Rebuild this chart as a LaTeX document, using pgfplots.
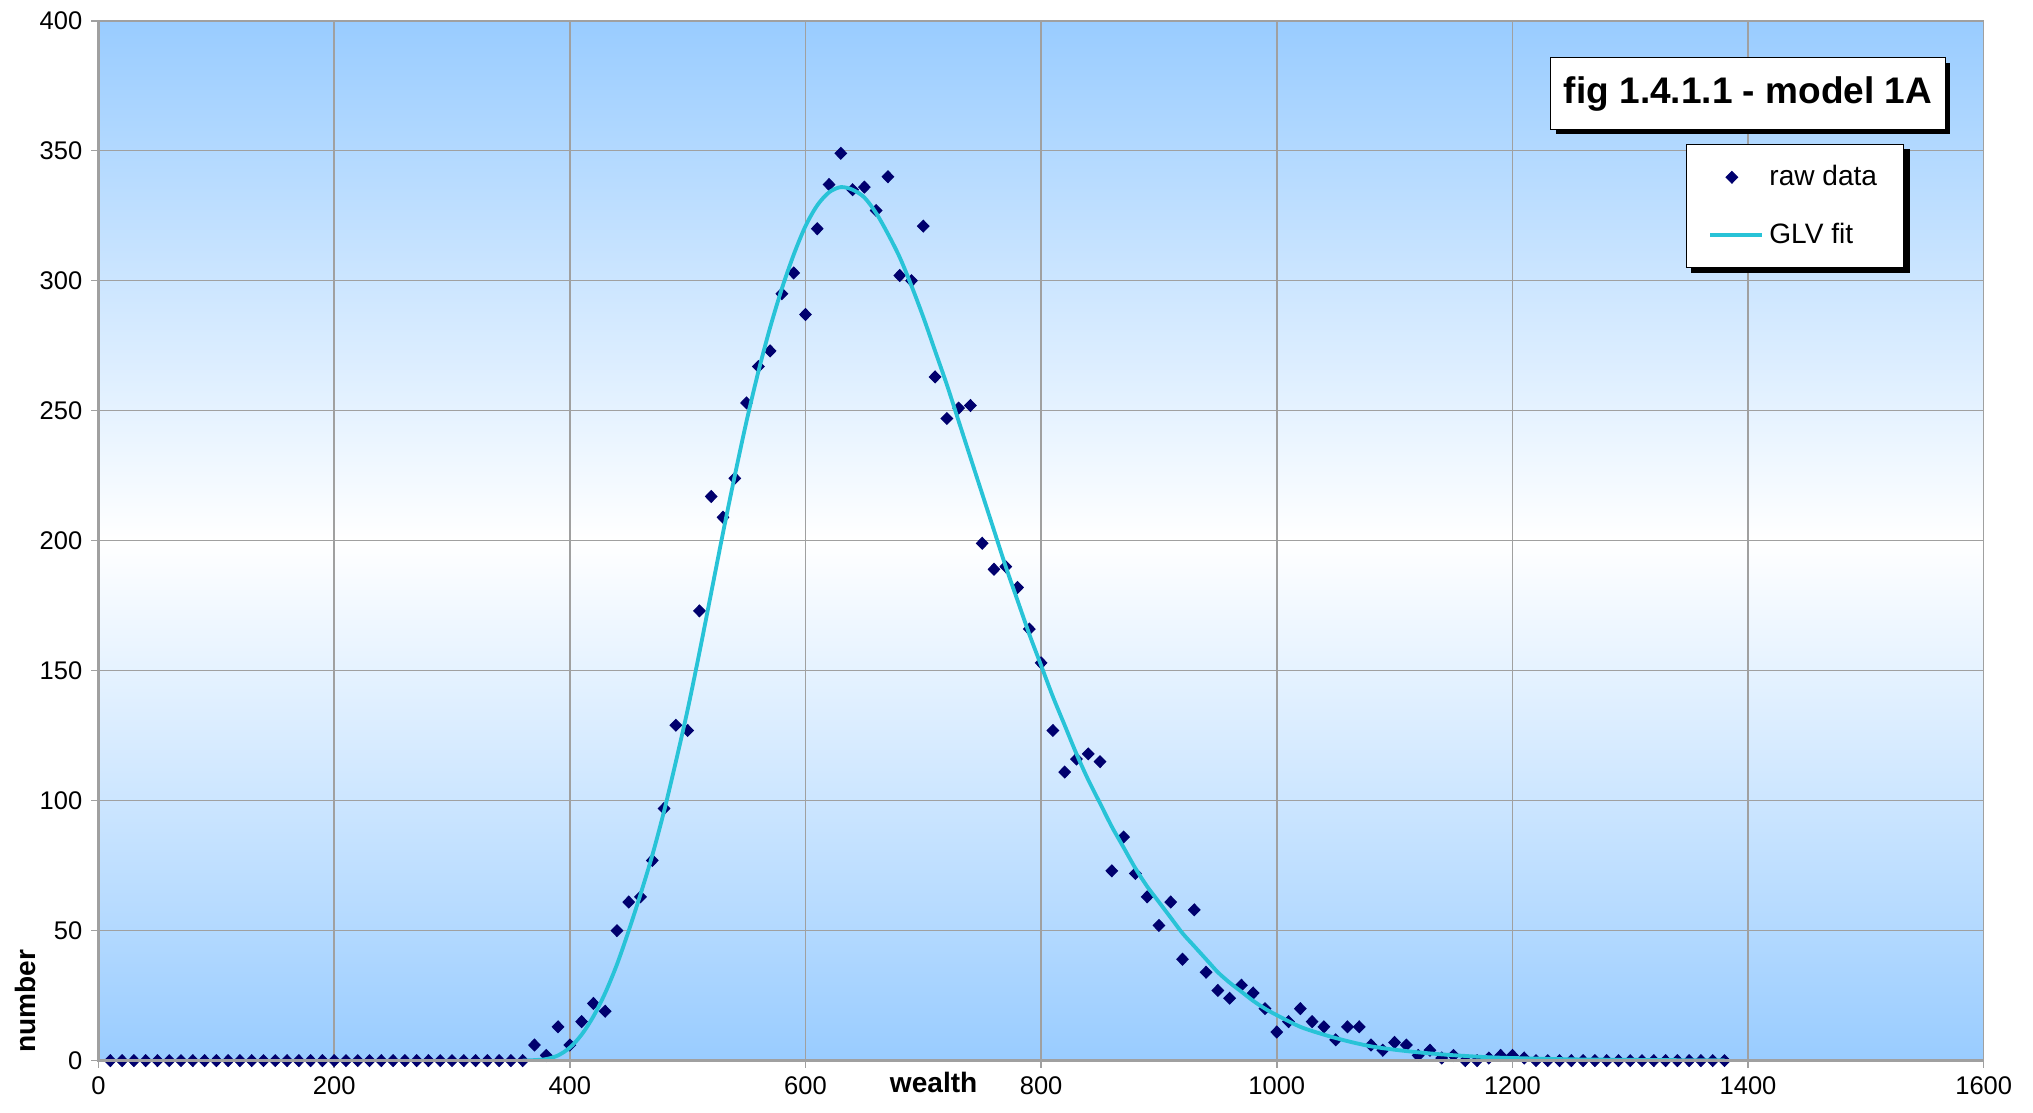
\documentclass[border=0pt]{standalone}
\usepackage{pgfplots}
\pgfplotsset{compat=1.18}
\usepackage{fontspec}
\setmainfont{Liberation Sans}
\usetikzlibrary{shadows}

\definecolor{bgblue}{RGB}{153,204,255}
\definecolor{fitcyan}{RGB}{40,195,215}
\definecolor{navy}{RGB}{0,0,110}
\definecolor{gridgray}{RGB}{160,160,160}

\begin{document}
\begin{tikzpicture}
\begin{axis}[
    scale only axis,
    width=25.96cm, height=14.32cm,
    xmin=0, xmax=1600, ymin=0, ymax=400,
    xtick={0,200,...,1600}, ytick={0,50,...,400},
    grid=major,
    major grid style={gridgray, line width=0.6pt},
    axis line style={gridgray, line width=0.6pt},
    tick align=outside, tick pos=left,
    major tick length=0.1cm,
    tick style={gridgray, line width=0.6pt},
    ticklabel style={font=\fontsize{10}{11}\selectfont},
    /pgf/number format/assume math mode=true,
    /pgf/number format/1000 sep={},
    clip mode=individual,
    axis background/.style={shade, top color=bgblue, bottom color=bgblue, middle color=white},
    xlabel={\textbf{wealth}},
    xlabel style={at={(axis description cs:0.443,0)}, anchor=north, yshift=-1pt, font=\fontsize{11}{12}\selectfont},
    ylabel={\textbf{number}},
    ylabel style={at={(axis description cs:-0.0385,0.057)}, anchor=center, font=\fontsize{11}{12}\selectfont},
    legend style={at={(axis cs:1440,328.7)}, anchor=center, draw=black, fill=white,
        font=\fontsize{11}{12}\selectfont, inner xsep=0.3cm, inner ysep=0.21cm,
        row sep=0.32cm, name=leg},
    legend cell align=left,
]
% raw data
\addplot[only marks, mark=diamond*, mark size=2.3pt, mark options={fill=navy, draw=navy, xscale=1.3}] coordinates {
(10,0) (20,0) (30,0) (40,0) (50,0) (60,0) (70,0) (80,0) (90,0) (100,0)
(110,0) (120,0) (130,0) (140,0) (150,0) (160,0) (170,0) (180,0) (190,0) (200,0)
(210,0) (220,0) (230,0) (240,0) (250,0) (260,0) (270,0) (280,0) (290,0) (300,0)
(310,0) (320,0) (330,0) (340,0) (350,0) (360,0)
(370,6) (380,2) (390,13) (400,6) (410,15) (420,22) (430,19) (440,50) (450,61) (460,63)
(470,77) (480,97) (490,129) (500,127) (510,173) (520,217) (530,209) (540,224) (550,253) (560,267)
(570,273) (580,295) (590,303) (600,287) (610,320) (620,337) (630,349) (640,335) (650,336) (660,327)
(670,340) (680,302) (690,300) (700,321) (710,263) (720,247) (730,251) (740,252) (750,199) (760,189)
(770,190) (780,182) (790,166) (800,153) (810,127) (820,111) (830,116) (840,118) (850,115) (860,73)
(870,86) (880,72) (890,63) (900,52) (910,61) (920,39) (930,58) (940,34) (950,27) (960,24)
(970,29) (980,26) (990,20) (1000,11) (1010,15) (1020,20) (1030,15) (1040,13) (1050,8) (1060,13)
(1070,13) (1080,6) (1090,4) (1100,7) (1110,6) (1120,2) (1130,4) (1140,1) (1150,2) (1160,0)
(1170,0) (1180,1) (1190,2) (1200,2) (1210,1) (1220,0) (1230,0) (1240,0) (1250,0) (1260,0)
(1270,0) (1280,0) (1290,0) (1300,0) (1310,0) (1320,0) (1330,0) (1340,0) (1350,0) (1360,0)
(1370,0) (1380,0)
};
\addlegendentry{raw data}
% GLV fit
\addplot[fitcyan, line width=1.5pt, smooth,
    legend image code/.code={\draw[fitcyan, line width=1.5pt] (0cm,0cm) -- (0.72cm,0cm);}] coordinates {
(360,0) (370,0.2) (380,0.6) (390,2) (400,5) (410,10) (420,17) (430,26) (440,37) (450,50)
(460,64) (470,79) (480,96) (490,115) (500,135) (510,157) (520,180) (530,203) (540,225) (550,246)
(560,265) (570,282) (580,297) (590,310) (600,321) (610,329) (620,334) (630,336) (640,335) (650,332)
(660,326) (670,318) (680,309) (690,298) (700,286) (710,273) (720,260) (730,246) (740,232) (750,218)
(760,204) (770,190) (780,177) (790,164) (800,152) (810,140) (820,129) (830,118) (840,108) (850,99)
(860,90) (870,82) (880,74) (890,67) (900,61) (910,55) (920,49) (930,44) (940,39) (950,34)
(960,30) (970,26.5) (980,23) (990,20) (1000,17.5) (1020,13) (1040,10) (1060,7.5) (1080,5.5) (1100,4.2)
(1120,3.2) (1140,2.4) (1160,1.8) (1180,1.3) (1200,1) (1250,0.5) (1300,0.3) (1350,0.15) (1380,0.1)
};
\addlegendentry{GLV fit}
\draw[gridgray, line width=1.4pt] (rel axis cs:0,1) -- (rel axis cs:0,0) -- (rel axis cs:1,0);
\node[draw=black, fill=white, font=\fontsize{14.5}{16}\selectfont\bfseries,
      minimum width=5.43cm, minimum height=0.98cm, inner xsep=0.1cm,
      drop shadow={shadow xshift=2pt, shadow yshift=-2pt, fill=black, opacity=1}]
      at (axis cs:1400,372) {fig 1.4.1.1 - model 1A};
\end{axis}
% legend shadow on the right and bottom edges
\draw[black, line width=2pt] ([xshift=1pt,yshift=-2pt]leg.north east)
    -- ([xshift=1pt,yshift=-1pt]leg.south east) -- ([xshift=2pt,yshift=-1pt]leg.south west);
\pgfresetboundingbox
\path[use as bounding box] ([xshift=-1.357cm,yshift=-0.714cm]current axis.south west)
    rectangle ([xshift=0.679cm,yshift=0.286cm]current axis.north east);
\end{tikzpicture}
\end{document}
